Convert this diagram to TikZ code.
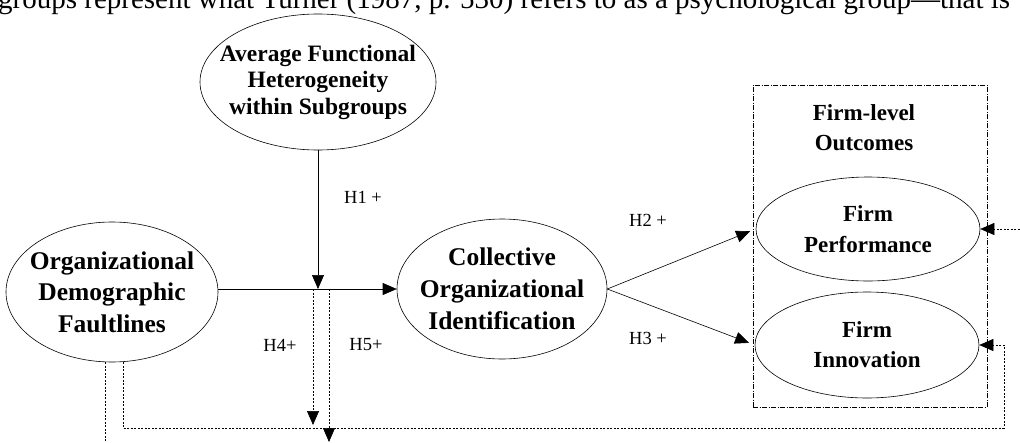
\documentclass[tikz,border=0pt]{standalone}
\usepackage{fontspec}
\setmainfont{Liberation Serif}
\usepackage{tikz}
\usetikzlibrary{shapes.geometric, arrows.meta, positioning}
\tikzstyle{oval} = [ellipse, draw=black, line width=0.6pt, inner sep=-20pt, text centered, align=center]
\tikzstyle{hyp} = [font=\fontsize{18.5}{20}\selectfont]
\tikzstyle{arrow} = [line width=0.6pt, -{Triangle[length=14pt,width=12pt]}]
\tikzstyle{dotarrow} = [arrow, dash pattern=on 2pt off 1.5pt]
\tikzstyle{dotline} = [line width=0.6pt, dash pattern=on 2pt off 1.5pt]
\tikzstyle{group} = [rectangle, draw=black, line width=0.6pt, dash pattern=on 5pt off 1.5pt on 1pt off 1.5pt]

\begin{document}
\begin{tikzpicture}[x=1pt, y=-1pt]
    \useasboundingbox (0,0) rectangle (1020,442);
    \clip (0,0) rectangle (1020,442);
    \node (para) [anchor=base west, inner sep=0pt, font=\fontsize{29}{32}\selectfont] at (-2,8) {\makebox[1012pt][s]{groups represent what Turner (1987, p. 530) refers to as a psychological group---that is}};
    \node (var1) [oval, minimum width=212pt, minimum height=140pt, font=\bfseries\fontsize{25.5}{31.5}\selectfont] at (112,292) {Organizational\\Demographic\\Faultlines};
    \node (var2) [oval, minimum width=236pt, minimum height=136pt, font=\bfseries\fontsize{23.5}{26.5}\selectfont] at (318,82) {Average Functional\\Heterogeneity\\within Subgroups};
    \node (var3) [oval, minimum width=210pt, minimum height=140pt, font=\bfseries\fontsize{25.5}{32}\selectfont] at (502,289) {Collective\\Organizational\\Identification};
    \node (outcomes) [group, minimum width=234pt, minimum height=322pt] at (870,246) {};
    \node (title) [font=\bfseries\fontsize{23}{30}\selectfont, align=center] at (864,128) {Firm-level\\Outcomes};
    \node (var4) [oval, minimum width=224pt, minimum height=104pt, font=\bfseries\fontsize{23}{31}\selectfont] at (868,229) {Firm\\Performance};
    \node (var5) [oval, minimum width=224pt, minimum height=106pt, font=\bfseries\fontsize{23}{30}\selectfont] at (867,345) {Firm\\Innovation};
    \coordinate (j1) at (318,289);
    \coordinate (j4) at (313,289);
    \coordinate (e4) at (313,425);
    \coordinate (j5) at (329,289);
    \coordinate (e5) at (329,442);
    \coordinate (bend) at (1004,428);
    \coordinate (offB) at (105,450);
    \coordinate (offR) at (1030,229);
    \draw[arrow] (var2.south) -- (j1);
    \draw[arrow] (var1.east |- var3.west) -- (var3.west);
    \draw[arrow, shorten >=6pt] (var3.east) -- (var4.west);
    \draw[arrow, shorten >=6pt] (var3.east) -- (var5.west);
    \draw[dotarrow] (j4) -- (e4);
    \draw[dotarrow] (j5) -- (e5);
    \draw[dotarrow] ([xshift=11pt]var1.south) |- (bend) |- (var5.east);
    \draw[dotline] ([xshift=-7pt]var1.south) -- (offB);
    \draw[dotarrow] (offR) -- (var4.east);
    \node (h1) [hyp] at (363,197) {H1 +};
    \node (h2) [hyp] at (648,220) {H2 +};
    \node (h3) [hyp] at (648,338) {H3 +};
    \node (h4) [hyp] at (280,345) {H4+};
    \node (h5) [hyp] at (366,345) {H5+};
\end{tikzpicture}
\end{document}
